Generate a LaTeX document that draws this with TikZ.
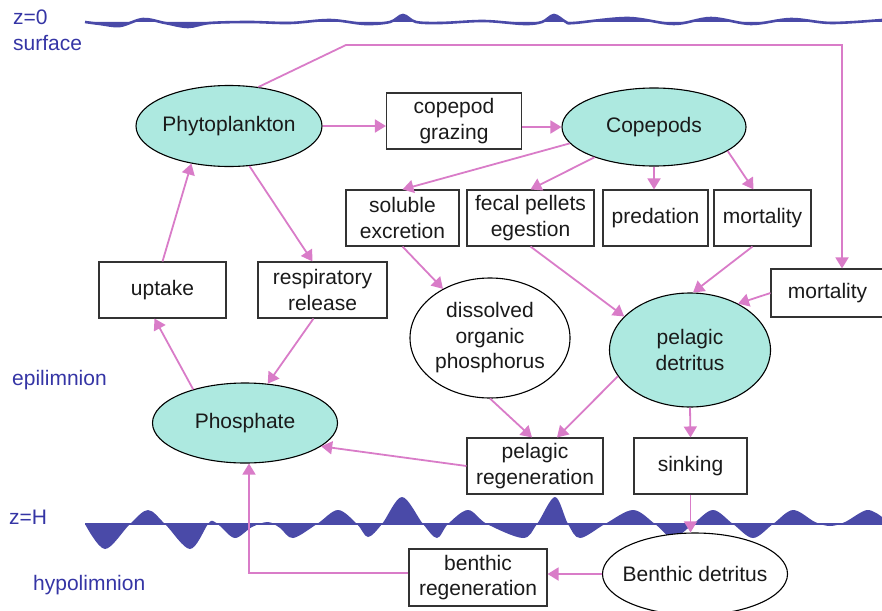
\documentclass[tikz,border=0pt]{standalone}
\usepackage{fontspec}
\setmainfont{Liberation Sans}
\usetikzlibrary{shapes.geometric,arrows.meta}
\definecolor{wave}{HTML}{4A4AA8}
\definecolor{lbl}{HTML}{3535A5}
\definecolor{arr}{HTML}{D97CC8}
\definecolor{tealf}{HTML}{ADE9E0}
\definecolor{txt}{HTML}{1A1A1A}
\begin{document}
\begin{tikzpicture}[x=1pt,y=-1pt,
  font=\fontsize{21}{25.5}\selectfont,
  box/.style={draw=black!80, line width=1.1pt, fill=white, inner sep=0pt, align=center, text=txt},
  ell/.style={ellipse, draw=black, line width=1.1pt, inner sep=0pt, inner xsep=-12pt, align=center, text=txt},
  flow/.style={draw=arr, line width=1.8pt, -{Triangle[length=11pt,width=13pt]}},
  lab/.style={text=lbl, anchor=base west, inner sep=0pt}]
\useasboundingbox (0,0) rectangle (882,610);

% surface wave
\fill[wave] plot[smooth,tension=0.55] coordinates {(85,22) (100,24) (120,26) (143,19) (165,23) (188,27) (210,23) (250,22) (290,23) (330,20) (365,24) (390,22) (403,15) (416,22) (441,23) (484,21) (524,24) (542,22) (554,15) (566,22) (574,23) (628,18) (674,24) (711,18) (751,24) (791,19) (831,23) (882,20)} -- (882,22) -- (85,22) -- cycle;
\draw[wave, line width=2.6pt] plot[smooth,tension=0.55] coordinates {(85,22) (100,24) (120,26) (143,19) (165,23) (188,27) (210,23) (250,22) (290,23) (330,20) (365,24) (390,22) (403,15) (416,22) (441,23) (484,21) (524,24) (542,22) (554,15) (566,22) (574,23) (628,18) (674,24) (711,18) (751,24) (791,19) (831,23) (882,20)};

% thermocline wave
\fill[wave] plot[smooth,tension=0.55] coordinates {(85,524) (105,549) (130,524) (148,510) (165,524) (190,549) (208,524) (213,521) (220,526) (235,538) (252,527) (268,522) (280,528) (293,538) (317,524) (338,510) (357,524) (368,537) (382,524) (402,497) (423,524) (437,538) (448,524) (468,510) (487,524) (523,538) (537,524) (555,497) (568,524) (580,538) (605,524) (633,510) (655,524) (673,538) (693,524) (713,510) (733,524) (753,538) (773,524) (793,510) (815,522) (830,526) (845,522) (867,510) (882,517)} -- (882,524) -- cycle;
\draw[wave, line width=2.4pt] (85,524) -- (882,524);

% labels
\node[lab] (lz0) at (13,25) {z=0};
\node[lab] (lsurf) at (13,51) {surface};
\node[lab] (lepi) at (12,385) {epilimnion};
\node[lab] (lzh) at (9,524) {z=H};
\node[lab] (lhypo) at (33,590) {hypolimnion};

% nodes
\node[ell, fill=tealf, minimum width=186pt, minimum height=81pt] (phyto) at (229,126) {Phytoplankton};
\node[box, minimum width=135pt, minimum height=56pt] (graz) at (454,121) {copepod\\grazing};
\node[ell, fill=tealf, minimum width=184pt, minimum height=78pt] (cope) at (654,127) {Copepods};
\node[box, minimum width=113pt, minimum height=56pt] (sol) at (402.5,218) {soluble\\excretion};
\node[box, minimum width=127pt, minimum height=56pt] (fecal) at (530.5,218) {fecal pellets\\egestion};
\node[box, minimum width=105pt, minimum height=56pt] (pred) at (655.5,218) {predation};
\node[box, minimum width=97pt, minimum height=56pt] (mort1) at (762.5,218) {mortality};
\node[box, minimum width=127pt, minimum height=56pt] (upt) at (162.5,290) {uptake};
\node[box, minimum width=129pt, minimum height=56pt] (resp) at (322.5,290) {respiratory\\release};
\node[box, minimum width=113pt, minimum height=48pt] (mort2) at (827.5,293) {mortality};
\node[ell, fill=white, minimum width=160pt, minimum height=120pt] (dop) at (490,338) {dissolved\\organic\\phosphorus};
\node[ell, fill=tealf, minimum width=161pt, minimum height=114pt] (pdet) at (690,350) {pelagic\\detritus};
\node[ell, fill=tealf, minimum width=185pt, minimum height=80pt] (phos) at (245,423) {Phosphate};
\node[box, minimum width=136pt, minimum height=56pt] (preg) at (535,466) {pelagic\\regeneration};
\node[box, minimum width=113pt, minimum height=56pt] (sink) at (690.5,466) {sinking};
\node[ell, fill=white, minimum width=185pt, minimum height=82pt] (bent) at (695,574) {Benthic detritus};
\node[box, minimum width=138pt, minimum height=57pt] (breg) at (478,577.5) {benthic\\regeneration};

\coordinate (c1) at (346,45);
\coordinate (c2) at (842,45);
\coordinate (c3) at (249,573);

% connectors
\draw[flow] (phyto.east) -- (phyto.east -| graz.west);
\draw[flow] (graz.east |- cope.west) -- (cope.west);
\draw[flow] (phyto.53) -- (c1) -- (c2) -- (c2 |- mort2.north);
\draw[flow] (cope.191) -- (sol.north);
\draw[flow] (cope.207) -- (fecal.north);
\draw[flow] (cope.south) -- (cope.south |- pred.north);
\draw[flow] (cope.-18) -- ([xshift=-9pt]mort1.north);
\draw[flow] (sol.south) -- (dop);
\draw[flow] (fecal.south) -- (pdet.153);
\draw[flow] ([xshift=-10pt]mort1.south) -- (pdet.87);
\draw[flow] (mort2.west) -- (pdet.44);
\draw[flow] (phyto.-63) -- ([xshift=-10pt]resp.north);
\draw[flow] ([xshift=-9pt]resp.south) -- (phos.60);
\draw[flow] (phos.147) -- ([xshift=-8pt]upt.south);
\draw[flow] (upt.north) -- (phyto.225);
\draw[flow] (dop.south) -- ([xshift=-3pt]preg.north);
\draw[flow] (pdet.200) -- ([xshift=22pt]preg.north);
\draw[flow] (preg.west) -- (phos.-17);
\draw[flow] (pdet.south) -- (sink.north);
\draw[flow] (sink.south) -- (sink.south |- bent.north);
\draw[flow] (bent.west) -- (bent.west -| breg.east);
\draw[flow] (breg.west |- c3) -- (c3) -- (c3 |- phos.south);
\end{tikzpicture}
\end{document}
